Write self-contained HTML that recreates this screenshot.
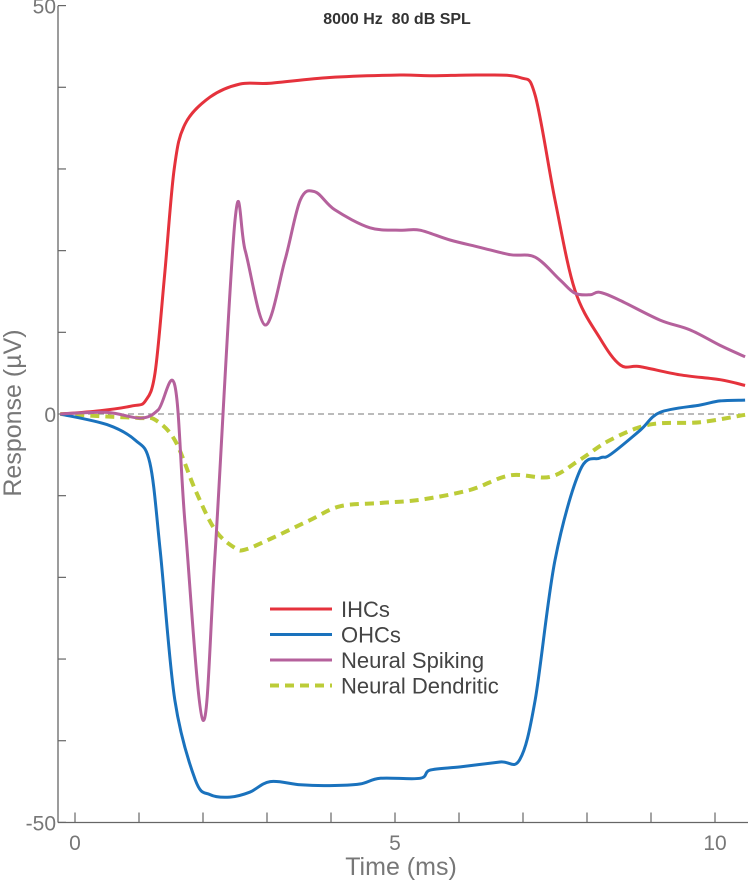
<!DOCTYPE html>
<html><head><meta charset="utf-8"><style>
html,body{margin:0;padding:0;background:#fff;}
svg{display:block;font-family:"Liberation Sans",sans-serif;}
</style></head><body>
<svg id="chart" width="749" height="888" viewBox="0 0 749 888"></svg>
<script>
const xTicks=[0,1,2,3,4,5,6,7,8,9,10];
const xTickLabels=["0","","","","","5","","","","","10"];
const yTicks=[50,40,30,20,10,0,-10,-20,-30,-40,-50];
const yTickLabels=["50","","","","","0","","","","","-50"];
const ihcT=[-0.23,0.39,0.9,1.1,1.25,1.4,1.55,1.72,2.11,2.58,3.05,3.98,5.08,5.55,6.33,6.95,7.19,7.5,7.81,8.2,8.52,8.83,9.45,10.08,10.47];
const ihcV=[0,0.4,1.0,1.6,5,17,30,35.5,38.8,40.4,40.5,41.2,41.5,41.4,41.5,41.2,39,26.2,15.2,9.3,6,5.8,4.8,4.2,3.5];
const ohcT=[-0.23,0.5,0.94,1.17,1.33,1.56,1.88,2.11,2.42,2.73,3.05,3.52,3.98,4.45,4.77,5.39,5.55,6.02,6.64,6.95,7.19,7.5,7.89,8.2,8.36,8.83,9.14,9.77,10.08,10.47];
const ohcV=[0,-1.3,-3.2,-6,-16.6,-35,-44.8,-46.6,-46.9,-46.3,-45,-45.4,-45.5,-45.3,-44.6,-44.6,-43.6,-43.2,-42.6,-42.3,-35,-17.9,-6.9,-5.4,-5,-2,0.2,1.1,1.6,1.7];
const spkT=[-0.23,0.5,1.02,1.3,1.56,1.72,2.0,2.19,2.5,2.66,2.97,3.28,3.52,3.75,4.06,4.61,5.08,5.39,5.86,6.33,6.8,7.19,7.58,7.81,8.05,8.2,8.52,9.14,9.61,10.08,10.47];
const spkV=[0,0.2,-0.5,0.5,3.5,-13.5,-37.5,-16.9,23.7,20,10.9,18.8,26.2,27.2,25,22.8,22.5,22.5,21.3,20.4,19.5,19.2,16.4,14.8,14.6,14.9,13.9,11.5,10.3,8.4,7];
const denT=[-0.23,0.5,1.02,1.25,1.56,1.88,2.19,2.5,2.66,3.05,3.67,4.14,4.77,5.39,6.17,6.8,7.42,7.89,8.36,8.98,9.77,10.47];
const denV=[0,-0.3,-0.5,-0.7,-3.2,-9.3,-14.2,-16.4,-16.6,-15.3,-13,-11.3,-10.9,-10.5,-9.3,-7.5,-7.7,-5.6,-3.2,-1.3,-1,-0.1];
const seriesNames=["IHCs","OHCs","Neural Spiking","Neural Dendritic"];

const svg=document.getElementById('chart');
const NS='http://www.w3.org/2000/svg';
const X0=58,X1=748,Y0=5.7,Y1=822.5;
function sx(t){return 75+t*64;}
function sy(v){return 414-v*8.168;}
function mk(tag,attrs,parent){const e=document.createElementNS(NS,tag);for(const k in attrs)e.setAttribute(k,attrs[k]);(parent||svg).appendChild(e);return e;}
function smooth(ts,vs){
  const p=ts.map((t,i)=>[sx(t),sy(vs[i])]);
  let d='M'+p[0][0].toFixed(1)+','+p[0][1].toFixed(1);
  for(let i=0;i<p.length-1;i++){
    const p0=p[i-1]||p[i],p1=p[i],p2=p[i+1],p3=p[i+2]||p2;
    const c1=[p1[0]+(p2[0]-p0[0])/6,p1[1]+(p2[1]-p0[1])/6];
    const c2=[p2[0]-(p3[0]-p1[0])/6,p2[1]-(p3[1]-p1[1])/6];
    d+=' C'+c1.map(v=>v.toFixed(1))+' '+c2.map(v=>v.toFixed(1))+' '+p2[0].toFixed(1)+','+p2[1].toFixed(1);
  }
  return d;
}
let e=mk('line',{x1:X0,y1:Y0,x2:X0,y2:Y1,stroke:'#666','stroke-width':1.3});


e=mk('line',{x1:X0,y1:Y1,x2:X1,y2:Y1,stroke:'#666','stroke-width':1.3});


yTicks.forEach((v,i)=>{
  const t=mk('line',{x1:X0,y1:sy(v),x2:X0+8,y2:sy(v),stroke:'#666','stroke-width':1.2});
  
  
  if(yTickLabels[i]){
    const l=mk('text',{x:X0-2,y:sy(v)+8,'text-anchor':'end','font-size':21,fill:'#777'});
    l.textContent=yTickLabels[i];
    
    
  }
});
xTicks.forEach((v,i)=>{
  const t=mk('line',{x1:sx(v),y1:Y1,x2:sx(v),y2:Y1-10,stroke:'#666','stroke-width':1.2});
  
  
  if(xTickLabels[i]){
    const l=mk('text',{x:sx(v),y:850,'text-anchor':'middle','font-size':21,fill:'#777'});
    l.textContent=xTickLabels[i];
    
    
  }
});
e=mk('line',{x1:X0,y1:sy(0),x2:X1,y2:sy(0),stroke:'#777','stroke-width':1,'stroke-dasharray':'6,4'});


e=mk('text',{x:401,y:875,'text-anchor':'middle','font-size':25,fill:'#777'});
e.textContent='Time (ms)';


e=mk('text',{x:0,y:0,'text-anchor':'middle','font-size':25,fill:'#777',transform:'translate(21,413) rotate(-90)'});
e.textContent='Response (\u00B5V)';


e=mk('text',{x:397,y:24,'text-anchor':'middle','font-size':16,'font-weight':'bold',fill:'#333'});
e.textContent='8000 Hz\u00A0\u00A080 dB SPL';


const styles=[
 {c:'#e5323c',dash:null,w:3,name:'ihc-line'},
 {c:'#1a72bd',dash:null,w:3,name:'ohc-line'},
 {c:'#b5619c',dash:null,w:3,name:'neural-spiking-line'},
 {c:'#bccc38',dash:'9,6',w:4,name:'neural-dendritic-line'}];
const data=[[ihcT,ihcV],[ohcT,ohcV],[spkT,spkV],[denT,denV]];
[3,0,1,2].forEach(i=>{
  const a={d:smooth(data[i][0],data[i][1]),fill:'none',stroke:styles[i].c,'stroke-width':styles[i].w,'stroke-linejoin':'round'};
  if(styles[i].dash)a['stroke-dasharray']=styles[i].dash;
  const p=mk('path',a);
  
  
});
const lg=mk('g',{});


seriesNames.forEach((n,i)=>{
  const y=609+i*25.5;
  const a={x1:270,y1:y,x2:332,y2:y,stroke:styles[i].c,'stroke-width':styles[i].w};
  if(styles[i].dash)a['stroke-dasharray']=styles[i].dash;
  const l=mk('line',a,lg);
  
  
  const t=mk('text',{x:341,y:y+8,'font-size':22,fill:'#444'},lg);
  t.textContent=n;
  
  
});
</script>
</body></html>
